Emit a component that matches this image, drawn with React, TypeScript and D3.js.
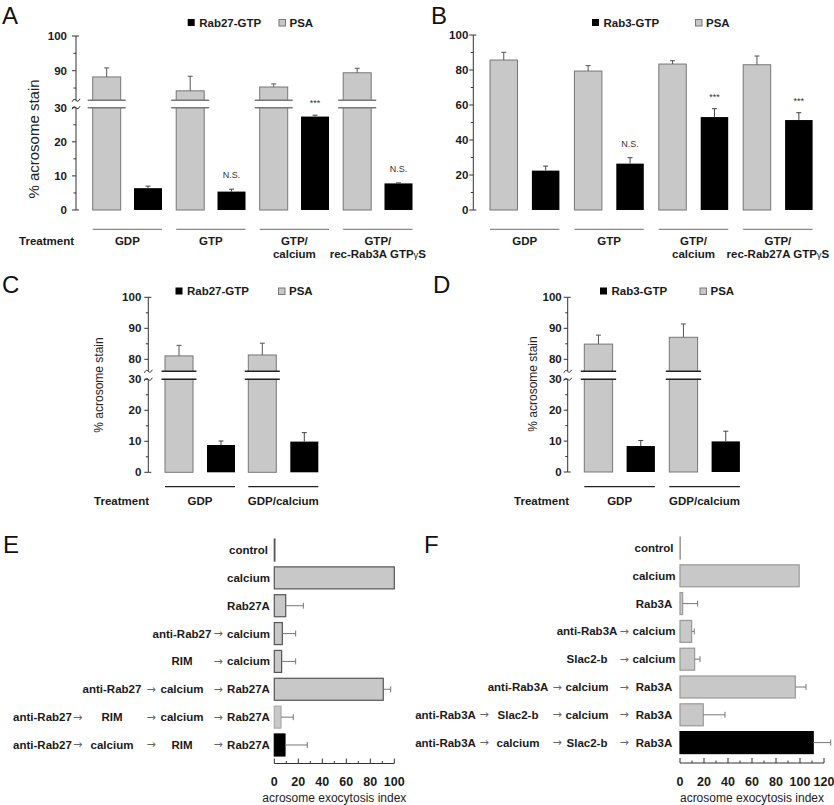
import React, { useEffect, useRef } from 'react';
import * as d3 from 'd3';

const FONT = '"Liberation Sans", Arial, Helvetica, sans-serif';
const GRAY = '#c8c8c8';

// Panel A: Rab27-GTP pull-down vs PSA
const groupsA = [['GDP'], ['GTP'], ['GTP/', 'calcium'], ['GTP/', 'rec-Rab3A GTPγS']];
const psaA = [88.2, 84.2, 85.3, 89.4];
const psaErrA = [2.6, 4.2, 0.9, 1.3];
const rabA = [6.4, 5.4, 27.4, 7.8];
const rabErrA = [0.6, 0.7, 0.4, 0.15];
const sigA = ['', 'N.S.', '***', 'N.S.'];

// Panel B: Rab3-GTP pull-down vs PSA
const groupsB = [['GDP'], ['GTP'], ['GTP/', 'calcium'], ['GTP/', 'rec-Rab27A GTPγS']];
const psaB = [85.7, 79.4, 83.4, 83.0];
const psaErrB = [4.4, 3.1, 1.9, 5.0];
const rabB = [22.5, 26.5, 53.1, 51.4];
const rabErrB = [2.6, 3.4, 4.8, 4.2];
const sigB = ['', 'N.S.', '***', '***'];

// Panels C and D
const groupsCD = [['GDP'], ['GDP/calcium']];
const psaC = [81.1, 81.4];
const psaErrC = [3.4, 3.8];
const rabC = [8.8, 9.9];
const rabErrC = [1.3, 2.9];
const psaD = [84.9, 87.1];
const psaErrD = [2.9, 4.3];
const rabD = [8.4, 9.9];
const rabErrD = [1.8, 3.3];
const sigCD = ['', ''];

// y ticks
const ticksA = [0, 10, 20, 30, 90, 100];
const minorA = [5, 15, 25, 85, 95];
const ticksCD = [0, 10, 20, 30, 80, 90, 100];
const minorCD = [5, 15, 25, 85, 95];
const ticksB = [0, 20, 40, 60, 80, 100];
const minorB = [10, 30, 50, 70, 90];

// Panel E: acrosome exocytosis index, Rab27 series
const stepsE = [
  ['', '', '', 'control'],
  ['', '', '', 'calcium'],
  ['', '', '', 'Rab27A'],
  ['', '', 'anti-Rab27', 'calcium'],
  ['', '', 'RIM', 'calcium'],
  ['', 'anti-Rab27', 'calcium', 'Rab27A'],
  ['anti-Rab27', 'RIM', 'calcium', 'Rab27A'],
  ['anti-Rab27', 'calcium', 'RIM', 'Rab27A'],
];
const valuesE = [0.5, 100, 9.5, 6.7, 6.1, 90.8, 5.6, 8.9];
const errE = [0, 0, 14.7, 11.1, 11.7, 6.2, 10.2, 18.6];
const ticksE = [0, 20, 40, 60, 80, 100];
const minorE = [10, 30, 50, 70, 90];

// Panel F: acrosome exocytosis index, Rab3 series
const stepsF = [
  ['', '', '', 'control'],
  ['', '', '', 'calcium'],
  ['', '', '', 'Rab3A'],
  ['', '', 'anti-Rab3A', 'calcium'],
  ['', '', 'Slac2-b', 'calcium'],
  ['', 'anti-Rab3A', 'calcium', 'Rab3A'],
  ['anti-Rab3A', 'Slac2-b', 'calcium', 'Rab3A'],
  ['anti-Rab3A', 'calcium', 'Slac2-b', 'Rab3A'],
];
const valuesF = [0.3, 99.3, 2.2, 9.7, 12.2, 96.1, 19.4, 111];
const errF = [0, 0, 12.5, 2.2, 4.5, 8.9, 18.1, 14.6];
const ticksF = [0, 20, 40, 60, 80, 100, 120];
const minorF = [10, 30, 50, 70, 90, 110];

type Sel = d3.Selection<SVGGElement, unknown, null, undefined>;

function addText(g: Sel, x: number, y: number, s: string, opt: any = {}) {
  const t = g
    .append('text')
    .attr('x', x)
    .attr('y', y)
    .attr('font-family', opt.family ?? FONT)
    .attr('font-size', opt.size ?? 11)
    .attr('font-weight', opt.weight ?? 'bold')
    .attr('fill', opt.fill ?? '#1a1a1a')
    .attr('text-anchor', opt.anchor ?? 'start');
  // gamma is set smaller, like a symbol-font glyph
  if (s.includes('γ')) {
    const [a, b] = s.split('γ');
    t.append('tspan').text(a);
    t.append('tspan').attr('font-size', (opt.size ?? 11) - 2).attr('font-weight', 'normal').text('γ');
    t.append('tspan').text(b);
  } else {
    t.text(s);
  }
  return t;
}

function drawVPanel(root: Sel, p: any) {
  const g = root.append('g');
  addText(g, p.letterX, p.letterY, p.letter, { size: 24, weight: 'normal', fill: '#111' });

  const low = d3.scaleLinear().domain(p.low).range(p.lowRange);
  const high = p.high ? d3.scaleLinear().domain(p.high).range(p.highRange) : null;
  const lowMax = p.low[1];
  const yv = (v: number) => (high && v > lowMax ? high(v) : low(v));

  const n = p.groups.length;
  const xg = d3
    .scaleBand<number>()
    .domain(d3.range(n))
    .range([p.x0, p.x0 + p.step * n]);
  const pairW = p.barW * 2 + p.gap;
  const xs = d3
    .scaleBand<string>()
    .domain(['psa', 'rab'])
    .range([0, pairW])
    .paddingInner(p.gap / (p.barW + p.gap));
  const bw = xs.bandwidth();

  // y axis
  const ax = p.axisX;
  const axisColor = '#333';
  if (high) {
    g.append('line').attr('x1', ax).attr('x2', ax).attr('y1', low(0)).attr('y2', low(lowMax)).attr('stroke', axisColor);
    g.append('line').attr('x1', ax).attr('x2', ax).attr('y1', p.breakTop).attr('y2', high(100)).attr('stroke', axisColor);
    [p.breakTop, low(lowMax)].forEach((yy: number) => {
      g.append('path')
        .attr('d', `M${ax - 4},${yy + 1.5} q2,-4 4,-1.5 t4,-1.5`)
        .attr('fill', 'none')
        .attr('stroke', axisColor);
    });
  } else {
    g.append('line').attr('x1', ax).attr('x2', ax).attr('y1', low(0)).attr('y2', low(100)).attr('stroke', axisColor);
  }
  const topY = high ? high(100) : low(100);
  g.append('line').attr('x1', ax).attr('x2', ax + 3).attr('y1', topY).attr('y2', topY).attr('stroke', axisColor);
  g.append('line').attr('x1', ax).attr('x2', ax + 3).attr('y1', low(0)).attr('y2', low(0)).attr('stroke', axisColor);

  p.ticks.forEach((t: number) => {
    const yy = yv(t);
    g.append('line').attr('x1', ax - 4).attr('x2', ax).attr('y1', yy).attr('y2', yy).attr('stroke', axisColor);
    addText(g, ax - p.labelGap, yy + 4, String(t), { anchor: 'end', size: 11.5 });
  });
  p.minor.forEach((t: number) => {
    const yy = yv(t);
    g.append('line').attr('x1', ax - 2.5).attr('x2', ax).attr('y1', yy).attr('y2', yy).attr('stroke', axisColor);
  });

  // bars
  for (let i = 0; i < n; i++) {
    const gx = xg(i)!;
    const px = gx + xs('psa')!;
    const rx = gx + xs('rab')!;
    const pv = p.psa[i];
    g.append('rect')
      .attr('x', px)
      .attr('y', yv(pv))
      .attr('width', bw)
      .attr('height', low(0) - yv(pv))
      .attr('fill', GRAY)
      .attr('stroke', '#777')
      .attr('stroke-width', 1);
    const pe = yv(pv + p.psaErr[i]);
    g.append('line').attr('x1', px + bw / 2).attr('x2', px + bw / 2).attr('y1', yv(pv)).attr('y2', pe).attr('stroke', '#555');
    g.append('line').attr('x1', px + bw / 2 - 2.5).attr('x2', px + bw / 2 + 2.5).attr('y1', pe).attr('y2', pe).attr('stroke', '#555');

    if (high) {
      const y1 = p.breakTop;
      const y2 = low(lowMax);
      g.append('rect')
        .attr('x', px - p.breakExt)
        .attr('y', y1 + 0.5)
        .attr('width', bw + p.breakExt * 2)
        .attr('height', y2 - y1 - 1)
        .attr('fill', '#fff');
      [y1, y2].forEach((yy: number) => {
        g.append('line')
          .attr('x1', px - p.breakExt)
          .attr('x2', px + bw + p.breakExt)
          .attr('y1', yy)
          .attr('y2', yy)
          .attr('stroke', p.breakColor)
          .attr('stroke-width', 1.4);
      });
    }

    const rv = p.rab[i];
    g.append('rect')
      .attr('x', rx)
      .attr('y', yv(rv))
      .attr('width', bw)
      .attr('height', low(0) - yv(rv))
      .attr('fill', '#000');
    const re = yv(rv + p.rabErr[i]);
    g.append('line').attr('x1', rx + bw / 2).attr('x2', rx + bw / 2).attr('y1', yv(rv)).attr('y2', re).attr('stroke', '#444');
    g.append('line').attr('x1', rx + bw / 2 - 2.5).attr('x2', rx + bw / 2 + 2.5).attr('y1', re).attr('y2', re).attr('stroke', '#444');

    const s = p.sig[i];
    if (s) {
      addText(g, rx + bw / 2, re - (s === '***' ? 9 : 11), s, {
        anchor: 'middle',
        size: 9,
        weight: 'normal',
        fill: '#333',
      });
    }

    // treatment line and label
    g.append('line')
      .attr('x1', gx)
      .attr('x2', gx + pairW)
      .attr('y1', p.lineY)
      .attr('y2', p.lineY)
      .attr('stroke', p.lineColor)
      .attr('stroke-width', 1.3);
    p.groups[i].forEach((ln: string, k: number) => {
      addText(g, gx + pairW / 2, p.labelY + k * 12.5, ln, { anchor: 'middle', size: 11.5 });
    });
  }

  if (p.treatmentX != null) {
    addText(g, p.treatmentX, p.labelY, 'Treatment', { anchor: 'end', size: 11.5 });
  }

  // legend
  g.append('rect').attr('x', p.legendX).attr('y', p.legendY - 3.5).attr('width', 7).attr('height', 7).attr('fill', '#000');
  addText(g, p.legendX + 11.5, p.legendY + 4, p.rabName, { size: 11.5 });
  g.append('rect')
    .attr('x', p.legendPsaX + 0.5)
    .attr('y', p.legendY - 3)
    .attr('width', 6.5)
    .attr('height', 6.5)
    .attr('fill', GRAY)
    .attr('stroke', '#777');
  addText(g, p.legendPsaX + 11, p.legendY + 4, 'PSA', { size: 11.5 });

  if (p.yLabel) {
    g.append('text')
      .attr('transform', `translate(${p.yLabel.x},${p.yLabel.y}) rotate(-90)`)
      .attr('text-anchor', 'middle')
      .attr('dominant-baseline', 'central')
      .attr('font-family', FONT)
      .attr('font-size', p.yLabel.size)
      .attr('fill', '#222')
      .text('% acrosome stain');
  }
}

function drawHPanel(root: Sel, p: any) {
  const g = root.append('g');
  addText(g, p.letterX, p.letterY, p.letter, { size: 24, weight: 'normal', fill: '#111' });

  const x = d3.scaleLinear().domain([0, p.xMax]).range(p.xRange);
  const n = p.steps.length;
  const y = d3
    .scaleBand<number>()
    .domain(d3.range(n))
    .range(p.rowRange)
    .paddingInner(0.21)
    .paddingOuter(0.105);
  const bh = y.bandwidth();

  for (let i = 0; i < n; i++) {
    const yy = y(i)!;
    const cy = yy + bh / 2;
    const v = p.values[i];
    const isBlack = i === p.blackRow;
    const isLight = p.lightRows.includes(i);
    g.append('rect')
      .attr('x', x(0))
      .attr('y', yy)
      .attr('width', x(v) - x(0))
      .attr('height', bh)
      .attr('fill', isBlack ? '#000' : GRAY)
      .attr('stroke', isBlack ? '#000' : isLight ? '#aaa' : p.barStroke)
      .attr('stroke-width', 1.2);
    if (p.errs[i] > 0) {
      const xe = x(v + p.errs[i]);
      g.append('line').attr('x1', x(v)).attr('x2', xe).attr('y1', cy).attr('y2', cy).attr('stroke', '#777');
      g.append('line').attr('x1', xe).attr('x2', xe).attr('y1', cy - 3).attr('y2', cy + 3).attr('stroke', '#777');
    }

    const row: string[] = p.steps[i];
    row.forEach((s, c) => {
      if (!s) return;
      addText(g, p.colX[c], cy + 4, s, { anchor: 'middle', size: 11.5 });
      if (c < row.length - 1) {
        addText(g, p.arrowX[c], cy + 3.5, '→', {
          anchor: 'middle',
          size: 11,
          weight: 'normal',
          fill: '#666',
          family: '"DejaVu Sans", sans-serif',
        });
      }
    });
  }

  // x axis with upward ticks
  const ay = p.axisY;
  g.append('line').attr('x1', x(0)).attr('x2', x(p.xMax)).attr('y1', ay).attr('y2', ay).attr('stroke', '#333');
  p.ticks.forEach((t: number) => {
    g.append('line').attr('x1', x(t)).attr('x2', x(t)).attr('y1', ay).attr('y2', ay - 5).attr('stroke', '#333');
    addText(g, x(t), p.tickLabelY, String(t), { anchor: 'middle', size: 12.5 });
  });
  p.minor.forEach((t: number) => {
    g.append('line').attr('x1', x(t)).attr('x2', x(t)).attr('y1', ay).attr('y2', ay - 2.5).attr('stroke', '#333');
  });
  addText(g, (p.xRange[0] + p.xRange[1]) / 2, p.titleY, 'acrosome exocytosis index', {
    anchor: 'middle',
    size: 12,
    weight: 'normal',
    fill: '#222',
  });
}

export default function App() {
  const svgRef = useRef<SVGSVGElement>(null);

  useEffect(() => {
    if (!svgRef.current) return;
    const svg = d3.select(svgRef.current);
    svg.selectAll('*').remove();
    const root = svg.append('g') as Sel;
    root.append('rect').attr('width', 834).attr('height', 805).attr('fill', '#fff');

    drawVPanel(root, {
      letter: 'A', letterX: 2, letterY: 24,
      groups: groupsA, psa: psaA, psaErr: psaErrA, rab: rabA, rabErr: rabErrA, sig: sigA,
      rabName: 'Rab27-GTP',
      axisX: 76, labelGap: 9,
      low: [0, 30], lowRange: [210, 107.7],
      high: [90, 100], highRange: [70.7, 36], breakTop: 100.3,
      ticks: ticksA, minor: minorA,
      x0: 92.7, step: 83.5, barW: 28, gap: 13.3,
      breakExt: 5, breakColor: '#777',
      legendX: 187.7, legendPsaX: 278.5, legendY: 22.5,
      lineY: 229.3, lineColor: '#888', labelY: 245,
      treatmentX: 74,
      yLabel: { x: 33, y: 139, size: 15 },
    });

    drawVPanel(root, {
      letter: 'B', letterX: 431, letterY: 24,
      groups: groupsB, psa: psaB, psaErr: psaErrB, rab: rabB, rabErr: rabErrB, sig: sigB,
      rabName: 'Rab3-GTP',
      axisX: 473.3, labelGap: 5,
      low: [0, 100], lowRange: [210, 35],
      ticks: ticksB, minor: minorB,
      x0: 490, step: 84.4, barW: 27.5, gap: 14.4,
      breakExt: 0, breakColor: '#777',
      legendX: 592, legendPsaX: 695, legendY: 22.5,
      lineY: 229.3, lineColor: '#888', labelY: 245,
    });

    drawVPanel(root, {
      letter: 'C', letterX: 2, letterY: 293,
      groups: groupsCD, psa: psaC, psaErr: psaErrC, rab: rabC, rabErr: rabErrC, sig: sigCD,
      rabName: 'Rab27-GTP',
      axisX: 148.3, labelGap: 7,
      low: [0, 30], lowRange: [472.3, 379.3],
      high: [80, 90], highRange: [359.3, 328.3], breakTop: 371.3,
      ticks: ticksCD, minor: minorCD,
      x0: 165, step: 83.3, barW: 28, gap: 14,
      breakExt: 3.5, breakColor: '#222',
      legendX: 175.5, legendPsaX: 278, legendY: 291,
      lineY: 486.7, lineColor: '#222', labelY: 505,
      treatmentX: 149,
      yLabel: { x: 98.5, y: 385, size: 12 },
    });

    drawVPanel(root, {
      letter: 'D', letterX: 433, letterY: 293,
      groups: groupsCD, psa: psaD, psaErr: psaErrD, rab: rabD, rabErr: rabErrD, sig: sigCD,
      rabName: 'Rab3-GTP',
      axisX: 567.7, labelGap: 6,
      low: [0, 30], lowRange: [472, 379.3],
      high: [80, 90], highRange: [359.3, 328.3], breakTop: 371.3,
      ticks: ticksCD, minor: minorCD,
      x0: 584.3, step: 85, barW: 28.3, gap: 14,
      breakExt: 3.5, breakColor: '#222',
      legendX: 600, legendPsaX: 699.5, legendY: 291,
      lineY: 486.7, lineColor: '#222', labelY: 505,
      treatmentX: 569,
      yLabel: { x: 533, y: 384, size: 12 },
    });

    drawHPanel(root, {
      letter: 'E', letterX: 3, letterY: 553,
      steps: stepsE, values: valuesE, errs: errE,
      ticks: ticksE, minor: minorE, xMax: 100, xRange: [274.3, 394.3],
      rowRange: [536.1, 758.9],
      colX: [42.5, 112, 182, 248.5], arrowX: [77.5, 151, 218],
      axisY: 763.5, tickLabelY: 785.5, titleY: 801.5,
      barStroke: '#555', lightRows: [6], blackRow: 7,
    });

    drawHPanel(root, {
      letter: 'F', letterX: 424, letterY: 553,
      steps: stepsF, values: valuesF, errs: errF,
      ticks: ticksF, minor: minorF, xMax: 120, xRange: [680, 824],
      rowRange: [534.1, 756.5],
      colX: [445.5, 518, 587, 654], arrowX: [484, 557, 624],
      axisY: 763, tickLabelY: 785.5, titleY: 801.5,
      barStroke: '#999', lightRows: [], blackRow: 7,
    });
  }, []);

  return (
    <svg
      ref={svgRef}
      width={834}
      height={805}
      style={{ position: 'absolute', left: 0, top: 0, display: 'block' }}
    />
  );
}
